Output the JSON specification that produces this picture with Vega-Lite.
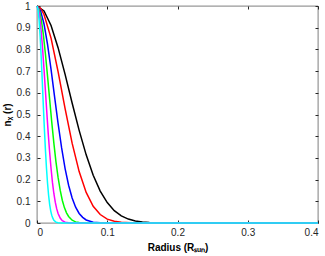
{
  "$schema": "https://vega.github.io/schema/vega-lite/v6.json",
  "width": 281,
  "height": 217,
  "autosize": {"type": "none"},
  "padding": {"left": 37, "top": 6, "right": 7, "bottom": 33},
  "config": {
    "font": "Liberation Sans",
    "view": {"stroke": "#262626", "strokeWidth": 0.6},
    "axis": {
      "domain": false,
      "grid": false,
      "tickColor": "#262626",
      "tickSize": -3,
      "labelColor": "#262626",
      "labelFontSize": 10,
      "labelFont": "Liberation Sans",
      "titleFont": "Liberation Sans",
      "titleFontSize": 10,
      "titleFontWeight": "bold",
      "titleColor": "#000000"
    }
  },
  "data": {"values": [
    {"s":"1","r":0,"n":1},{"s":"1","r":0.01,"n":0.977},{"s":"1","r":0.02,"n":0.91},{"s":"1","r":0.03,"n":0.808},{"s":"1","r":0.04,"n":0.685},{"s":"1","r":0.05,"n":0.553},{"s":"1","r":0.06,"n":0.427},{"s":"1","r":0.07,"n":0.314},{"s":"1","r":0.08,"n":0.22},{"s":"1","r":0.09,"n":0.147},{"s":"1","r":0.1,"n":0.094},{"s":"1","r":0.11,"n":0.057},{"s":"1","r":0.12,"n":0.033},{"s":"1","r":0.13,"n":0.018},{"s":"1","r":0.14,"n":0.0097},{"s":"1","r":0.15,"n":0.0049},{"s":"1","r":0.16,"n":0.0023},{"s":"1","r":0.18,"n":0.0005},{"s":"1","r":0.2,"n":0},{"s":"1","r":0.3,"n":0},{"s":"1","r":0.4,"n":0},
    {"s":"2","r":0,"n":1},{"s":"2","r":0.005,"n":0.99},{"s":"2","r":0.01,"n":0.961},{"s":"2","r":0.02,"n":0.852},{"s":"2","r":0.03,"n":0.698},{"s":"2","r":0.04,"n":0.527},{"s":"2","r":0.05,"n":0.368},{"s":"2","r":0.06,"n":0.237},{"s":"2","r":0.07,"n":0.141},{"s":"2","r":0.08,"n":0.077},{"s":"2","r":0.09,"n":0.039},{"s":"2","r":0.1,"n":0.018},{"s":"2","r":0.11,"n":0.008},{"s":"2","r":0.12,"n":0.0032},{"s":"2","r":0.14,"n":0.0004},{"s":"2","r":0.16,"n":0},{"s":"2","r":0.3,"n":0},{"s":"2","r":0.4,"n":0},
    {"s":"3","r":0,"n":1},{"s":"3","r":0.005,"n":0.979},{"s":"3","r":0.01,"n":0.917},{"s":"3","r":0.015,"n":0.823},{"s":"3","r":0.02,"n":0.708},{"s":"3","r":0.025,"n":0.582},{"s":"3","r":0.03,"n":0.459},{"s":"3","r":0.035,"n":0.347},{"s":"3","r":0.04,"n":0.251},{"s":"3","r":0.045,"n":0.174},{"s":"3","r":0.05,"n":0.115},{"s":"3","r":0.055,"n":0.073},{"s":"3","r":0.06,"n":0.044},{"s":"3","r":0.065,"n":0.026},{"s":"3","r":0.07,"n":0.014},{"s":"3","r":0.08,"n":0.0039},{"s":"3","r":0.09,"n":0.0009},{"s":"3","r":0.1,"n":0},{"s":"3","r":0.3,"n":0},{"s":"3","r":0.4,"n":0},
    {"s":"4","r":0,"n":1},{"s":"4","r":0.003,"n":0.985},{"s":"4","r":0.006,"n":0.939},{"s":"4","r":0.009,"n":0.869},{"s":"4","r":0.012,"n":0.779},{"s":"4","r":0.015,"n":0.677},{"s":"4","r":0.018,"n":0.57},{"s":"4","r":0.021,"n":0.465},{"s":"4","r":0.024,"n":0.368},{"s":"4","r":0.027,"n":0.282},{"s":"4","r":0.03,"n":0.21},{"s":"4","r":0.033,"n":0.151},{"s":"4","r":0.036,"n":0.105},{"s":"4","r":0.039,"n":0.071},{"s":"4","r":0.042,"n":0.047},{"s":"4","r":0.045,"n":0.03},{"s":"4","r":0.05,"n":0.013},{"s":"4","r":0.055,"n":0.0052},{"s":"4","r":0.06,"n":0.0019},{"s":"4","r":0.07,"n":0.0002},{"s":"4","r":0.08,"n":0},{"s":"4","r":0.3,"n":0},{"s":"4","r":0.4,"n":0},
    {"s":"5","r":0,"n":1},{"s":"5","r":0.002,"n":0.986},{"s":"5","r":0.004,"n":0.946},{"s":"5","r":0.006,"n":0.883},{"s":"5","r":0.008,"n":0.801},{"s":"5","r":0.01,"n":0.708},{"s":"5","r":0.012,"n":0.608},{"s":"5","r":0.014,"n":0.508},{"s":"5","r":0.016,"n":0.412},{"s":"5","r":0.018,"n":0.326},{"s":"5","r":0.02,"n":0.251},{"s":"5","r":0.022,"n":0.187},{"s":"5","r":0.024,"n":0.136},{"s":"5","r":0.026,"n":0.096},{"s":"5","r":0.028,"n":0.066},{"s":"5","r":0.03,"n":0.044},{"s":"5","r":0.033,"n":0.023},{"s":"5","r":0.036,"n":0.011},{"s":"5","r":0.04,"n":0.0039},{"s":"5","r":0.045,"n":0.0009},{"s":"5","r":0.05,"n":0},{"s":"5","r":0.3,"n":0},{"s":"5","r":0.4,"n":0},
    {"s":"6","r":0,"n":1},{"s":"6","r":0.0015,"n":0.983},{"s":"6","r":0.003,"n":0.934},{"s":"6","r":0.0045,"n":0.858},{"s":"6","r":0.006,"n":0.762},{"s":"6","r":0.0075,"n":0.654},{"s":"6","r":0.009,"n":0.542},{"s":"6","r":0.0105,"n":0.435},{"s":"6","r":0.012,"n":0.337},{"s":"6","r":0.0135,"n":0.252},{"s":"6","r":0.015,"n":0.183},{"s":"6","r":0.0165,"n":0.128},{"s":"6","r":0.018,"n":0.086},{"s":"6","r":0.0195,"n":0.056},{"s":"6","r":0.021,"n":0.036},{"s":"6","r":0.0225,"n":0.022},{"s":"6","r":0.024,"n":0.013},{"s":"6","r":0.027,"n":0.004},{"s":"6","r":0.03,"n":0.0011},{"s":"6","r":0.035,"n":0},{"s":"6","r":0.2,"n":0},{"s":"6","r":0.3,"n":0},{"s":"6","r":0.4,"n":0}
  ]},
  "layer": [
    {
      "mark": {"type": "point", "opacity": 0},
      "encoding": {
        "x": {"field": "r", "type": "quantitative", "scale": {"domain": [0, 0.4], "nice": false},
              "axis": {"orient": "top", "labels": false, "title": null, "values": [0, 0.1, 0.2, 0.3, 0.4]}},
        "y": {"field": "n", "type": "quantitative", "scale": {"domain": [0, 1], "nice": false},
              "axis": {"orient": "right", "labels": false, "title": null, "values": [0, 0.1, 0.2, 0.3, 0.4, 0.5, 0.6, 0.7, 0.8, 0.9, 1]}}
      }
    },
    {
      "mark": {"type": "line", "strokeWidth": 1.5, "clip": false},
      "encoding": {
        "x": {"field": "r", "type": "quantitative", "scale": {"domain": [0, 0.4], "nice": false},
              "axis": {"orient": "bottom", "title": "Radius (Rₛᵤₙ)", "values": [0, 0.1, 0.2, 0.3, 0.4], "format": "~g", "labelPadding": 7, "titlePadding": 5}},
        "y": {"field": "n", "type": "quantitative", "scale": {"domain": [0, 1], "nice": false},
              "axis": {"orient": "left", "title": "nᵪ (r)", "values": [0, 0.1, 0.2, 0.3, 0.4, 0.5, 0.6, 0.7, 0.8, 0.9, 1], "format": "~g", "labelPadding": 10, "titlePadding": 4}},
        "color": {"field": "s", "type": "nominal", "legend": null,
                  "scale": {"domain": ["1", "2", "3", "4", "5", "6"], "range": ["#000000", "#ff0000", "#0000ff", "#00ff00", "#ff00ff", "#00ffff"]}},
        "order": {"field": "r", "type": "quantitative"}
      }
    }
  ],
  "resolve": {"axis": {"x": "independent", "y": "independent"}}
}
